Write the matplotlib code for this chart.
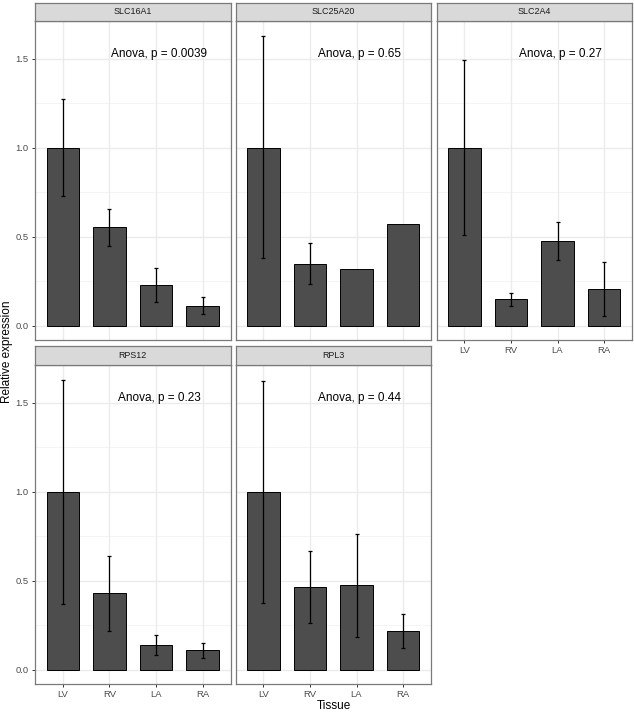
import numpy as np
import matplotlib
matplotlib.use('Agg')
import matplotlib.pyplot as plt

plt.rcParams['font.family'] = ['Liberation Sans', 'DejaVu Sans']

# ------------------------------------------------------------------------------
# Data
tissues = ['LV', 'RV', 'LA', 'RA']
genes = ['SLC16A1', 'SLC25A20', 'SLC2A4', 'RPS12', 'RPL3']
p_values = ['0.0039', '0.65', '0.27', '0.23', '0.44']

mean_expr = [
    [1.0, 0.553, 0.228, 0.112],
    [1.0, 0.348, 0.320, 0.571],
    [1.0, 0.148, 0.476, 0.204],
    [1.0, 0.429, 0.140, 0.109],
    [1.0, 0.466, 0.474, 0.219],
]
err_low = [
    [0.730, 0.448, 0.135, 0.066],
    [0.379, 0.233, np.nan, np.nan],
    [0.508, 0.112, 0.367, 0.053],
    [0.371, 0.217, 0.081, 0.066],
    [0.376, 0.264, 0.185, 0.124],
]
err_high = [
    [1.272, 0.657, 0.324, 0.160],
    [1.626, 0.465, np.nan, np.nan],
    [1.494, 0.184, 0.583, 0.358],
    [1.629, 0.640, 0.197, 0.152],
    [1.624, 0.669, 0.762, 0.315],
]

W, H = 634, 714
fig = plt.figure(figsize=(W / 100, H / 100), dpi=100)

col_left = [35, 235.5, 436.5]
panel_w = 195.5
row_top = [21, 365]
panel_h = 318.5
strip_h = 18.5
border = '#7a7a7a'
x = np.arange(1, 5)

for i, gene in enumerate(genes):
    r, c = divmod(i, 3)
    left = col_left[c] / W
    bottom = 1 - (row_top[r] + panel_h) / H
    ax = fig.add_axes([left, bottom, panel_w / W, panel_h / H])

    # theme_bw like grid
    for y in [0.25, 0.75, 1.25]:
        ax.axhline(y, color='#F2F2F2', lw=0.6, zorder=0)
    for y in [0, 0.5, 1.0, 1.5]:
        ax.axhline(y, color='#EBEBEB', lw=1.0, zorder=0)
    for xx in x:
        ax.axvline(xx, color='#EBEBEB', lw=1.0, zorder=0)

    m = np.array(mean_expr[i])
    lo = np.array(err_low[i])
    hi = np.array(err_high[i])
    ax.bar(x, m, width=0.7, color='#4D4D4D', edgecolor='black', linewidth=0.7, zorder=2)
    ok = ~np.isnan(lo)
    ax.errorbar(x[ok], m[ok], yerr=[m[ok] - lo[ok], hi[ok] - m[ok]], fmt='none',
                ecolor='black', elinewidth=0.9, capsize=1.6, capthick=0.9, zorder=3)

    ax.text(3.07, 1.525, f'Anova, p = {p_values[i]}', ha='center', va='center',
            fontsize=8.5, color='black')

    ax.set_xlim(0.4, 4.6)
    ax.set_ylim(-0.078, 1.712)
    ax.set_xticks(x)
    ax.set_yticks([0, 0.5, 1.0, 1.5])
    ax.tick_params(length=2.4, width=0.7, color='#333333', labelsize=6.8,
                   labelcolor='#4D4D4D', pad=2.2)
    for s in ax.spines.values():
        s.set_color(border)
        s.set_linewidth(0.9)

    if c == 0:
        ax.set_yticklabels(['0.0', '0.5', '1.0', '1.5'])
    else:
        ax.tick_params(axis='y', left=False, labelleft=False)
    if r == 1 or i == 2:
        ax.set_xticklabels(tissues)
    else:
        ax.tick_params(axis='x', bottom=False, labelbottom=False)

    # facet strip
    sax = fig.add_axes([left, 1 - row_top[r] / H, panel_w / W, strip_h / H])
    sax.set_facecolor('#D9D9D9')
    sax.set_xticks([])
    sax.set_yticks([])
    for s in sax.spines.values():
        s.set_color(border)
        s.set_linewidth(0.9)
    sax.text(0.5, 0.5, gene, ha='center', va='center', fontsize=6.4,
             color='#1A1A1A', transform=sax.transAxes)

fig.text(7 / W, 1 - 351.5 / H, 'Relative expression', rotation=90, ha='center',
         va='center', fontsize=8.5)
fig.text(333.5 / W, 1 - 706 / H, 'Tissue', ha='center', va='center', fontsize=8.5)

fig.savefig('out.png', dpi=100)
